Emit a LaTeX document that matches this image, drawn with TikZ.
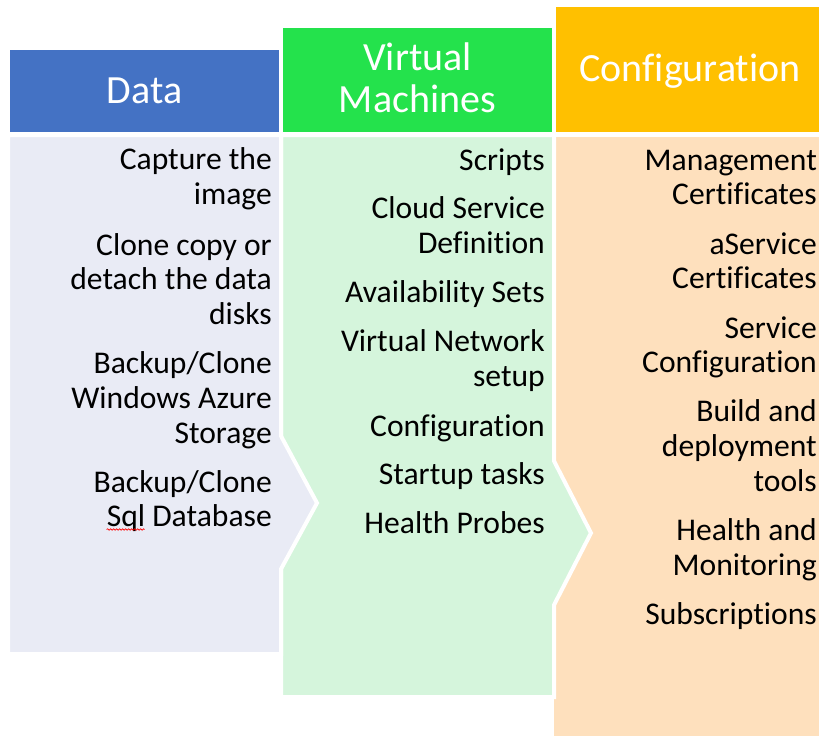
\documentclass[tikz,border=0pt]{standalone}
\usepackage{fontspec}
\setmainfont{Carlito}[Ligatures=NoCommon]
\usetikzlibrary{decorations.pathmorphing}
\definecolor{dataHead}{HTML}{4472C4}
\definecolor{vmHead}{HTML}{24E24C}
\definecolor{cfgHead}{HTML}{FFC000}
\definecolor{dataBody}{HTML}{E9EBF5}
\definecolor{vmBody}{HTML}{D5F5DC}
\definecolor{cfgBody}{HTML}{FEE0BD}
\begin{document}
\begin{tikzpicture}[x=1pt,y=-1pt,
  item/.style={anchor=base east, inner sep=0pt, font=\fontsize{31.6}{34}\selectfont},
  head/.style={anchor=base, inner sep=0pt, text=white, font=\fontsize{40}{44}\selectfont},
  gapline/.style={draw=white, line width=4pt, line join=miter}]
\useasboundingbox (0,0) rectangle (819,736);
\clip (0,0) rectangle (819,736);
% bodies
\fill[cfgBody] (554,137) rectangle (830,740);
\path[fill=vmBody, gapline] (281,135) -- (554,135) -- (554,461) -- (591,533) -- (554,605) -- (554,697) -- (281,697) -- cycle;
\path[fill=dataBody, gapline] (8,135) -- (281,135) -- (281,436) -- (317,503) -- (281,569) -- (281,654) -- (8,654) -- cycle;
% headers
\fill[dataHead] (10,50) rectangle (279,132);
\fill[vmHead] (283,28) rectangle (552,132);
\fill[cfgHead] (556,7) rectangle (830,132);
\node[head] (hData) at (144.5,103) {Data};
\node[head] (hVM1) at (417.5,70) {Virtual};
\node[head] (hVM2) at (417.5,112) {Machines};
\node[head] (hCfg) at (690,81) {Configuration};
% Data items
\node[item] (d1a) at (272,169.5) {Capture the};
\node[item] (d1b) at (272,204) {image};
\node[item] (d2a) at (272,255) {Clone copy or};
\node[item] (d2b) at (272,289.5) {detach the data};
\node[item] (d2c) at (272,324) {disks};
\node[item] (d3a) at (272,373) {Backup/Clone};
\node[item] (d3b) at (272,408) {Windows Azure};
\node[item] (d3c) at (272,443) {Storage};
\node[item] (d4a) at (272,492) {Backup/Clone};
\node[item] (d4b) at (272,526.5) {Sql Database};
\draw[red, line width=0.7pt, decorate, decoration={snake, amplitude=0.7pt, segment length=3pt}]
  ([yshift=-3pt]d4b.base west) -- ++(38,0);
% VM items
\node[item] (v1) at (545,170) {Scripts};
\node[item] (v2a) at (545,218) {Cloud Service};
\node[item] (v2b) at (545,253) {Definition};
\node[item] (v3) at (545,302) {Availability Sets};
\node[item] (v4a) at (545,351) {Virtual Network};
\node[item] (v4b) at (545,386) {setup};
\node[item] (v5) at (545,436) {Configuration};
\node[item] (v6) at (545,484) {Startup tasks};
\node[item] (v7) at (545,533) {Health Probes};
% Config items
\node[item] (c1a) at (817,170) {Management};
\node[item] (c1b) at (817,204) {Certificates};
\node[item] (c2a) at (817,254) {aService};
\node[item] (c2b) at (817,288) {Certificates};
\node[item] (c3a) at (817,338) {Service};
\node[item] (c3b) at (817,372) {Configuration};
\node[item] (c4a) at (817,421) {Build and};
\node[item] (c4b) at (817,456) {deployment};
\node[item] (c4c) at (817,491) {tools};
\node[item] (c5a) at (817,540) {Health and};
\node[item] (c5b) at (817,575) {Monitoring};
\node[item] (c6) at (817,624) {Subscriptions};
\end{tikzpicture}
\end{document}
